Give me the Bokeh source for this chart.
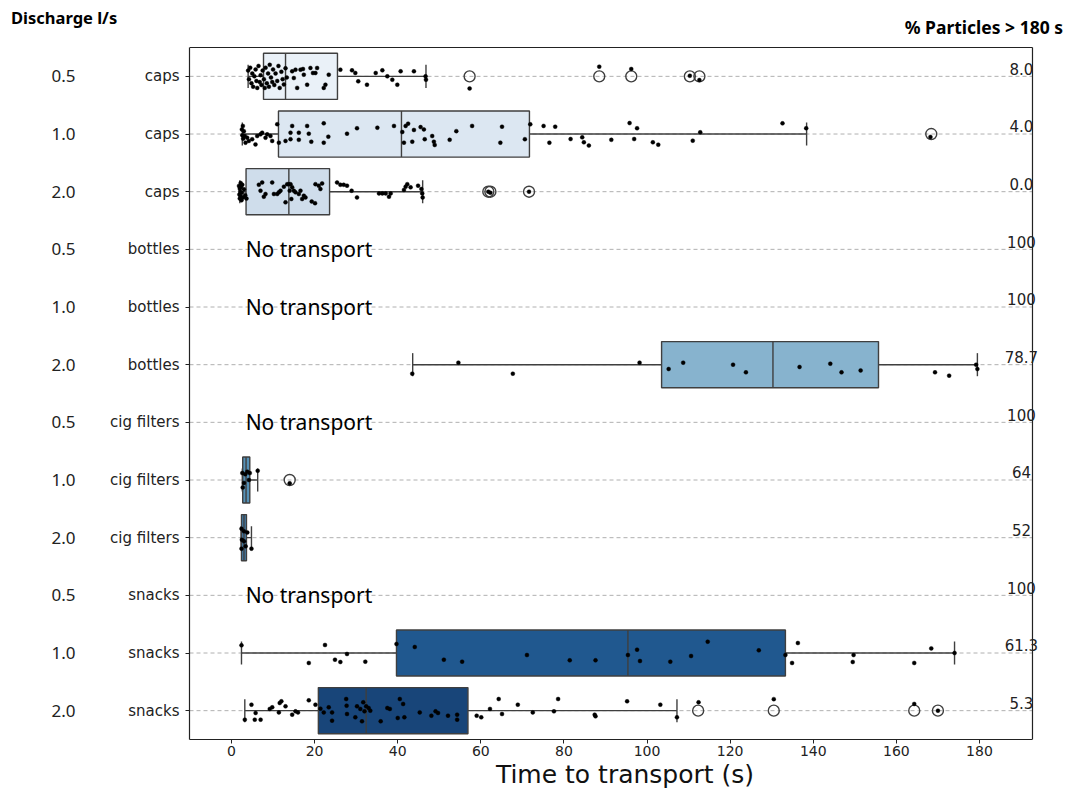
import colorsys
from bokeh.plotting import figure
from bokeh.layouts import column
from bokeh.models import Range1d, FixedTicker, LinearAxis, Label, ColumnDataSource, Div
from bokeh.embed import file_html
from bokeh.resources import INLINE

# ---------------- data ----------------
materials = ["caps", "caps", "caps", "bottles", "bottles", "bottles",
             "cig filters", "cig filters", "cig filters", "snacks", "snacks", "snacks"]
discharge = ["0.5", "1.0", "2.0", "0.5", "1.0", "2.0",
             "0.5", "1.0", "2.0", "0.5", "1.0", "2.0"]
pct_over_180 = ["8.0", "4.0", "0.0", "100", "100", "78.7", "100", "64", "52", "100", "61.3", "5.3"]
no_transport_rows = [3, 4, 6, 9]
x_ticks = [0, 20, 40, 60, 80, 100, 120, 140, 160, 180]

box_rows = [0, 1, 2, 5, 7, 8, 10, 11]
whisker_lo = [4.0, 2.6, 2.0, 43.6, 2.6, 2.3, 2.4, 3.2]
q1 = [7.7, 11.3, 3.5, 103.5, 2.7, 2.4, 39.7, 20.9]
median = [13.0, 40.9, 13.8, 130.3, 3.5, 3.0, 95.4, 32.4]
q3 = [25.5, 71.7, 23.6, 155.7, 4.4, 3.6, 133.3, 56.9]
whisker_hi = [46.8, 138.4, 46.0, 179.5, 6.3, 4.8, 174.0, 107.2]

outliers_caps_05 = [57.3, 88.5, 96.2, 110.3, 112.6]
outliers_caps_10 = [168.4]
outliers_caps_20 = [61.8, 62.3, 71.6]
outliers_cig_10 = [14.0]
outliers_snacks_20 = [112.3, 130.5, 164.3, 170.0]

# individual particles: time (s) and vertical jitter (row units)
pts_caps_05_x = [4.0, 4.2, 4.5, 4.8, 5.0, 5.2, 5.5, 5.8, 6.0, 6.2, 6.5, 6.8, 7.0, 7.2, 7.5, 7.8,
                 8.0, 8.2, 8.5, 8.8, 9.0, 9.2, 9.5, 9.8, 10.0, 10.3, 10.6, 11.0, 11.3, 11.6, 12.0,
                 12.3, 12.6, 13.0, 13.3,
                 14.6, 15.4, 15.0, 15.8, 16.6, 17.2, 17.4, 18.2, 19.0, 19.6, 20.2, 20.6, 22.2, 22.6,
                 23.4, 26.2, 29.0, 29.8, 30.5, 32.6, 34.7, 36.3, 37.5, 38.7, 39.9, 40.7, 43.9, 46.7,
                 46.8, 57.3, 88.5, 96.2, 110.3, 112.6]
pts_caps_05_j = [-0.10, 0.05, -0.15, 0.12, -0.05, 0.18, 0.00, -0.12, 0.08, 0.20, -0.18, 0.10, -0.02,
                 0.15, -0.10, 0.05, 0.20, -0.15, 0.12, -0.05, 0.18, -0.20, 0.02, 0.10, -0.12, 0.15,
                 -0.05, 0.08, -0.18, 0.20, -0.08, 0.05, 0.14, -0.14, 0.02,
                 -0.087, -0.116, 0.029, 0.20, -0.116, -0.127, -0.029, 0.145, -0.145, -0.058, -0.058,
                 -0.145, 0.20, 0.145, -0.029, -0.116, -0.104, -0.058, 0.087, 0.145, -0.058, -0.104,
                 0.0, 0.058, 0.145, -0.087, -0.087, 0.0, 0.058, 0.21, -0.168, -0.127, -0.01, 0.064]

pts_caps_10_x = [2.5, 2.6, 2.8, 2.73, 2.97, 3.2, 3.37, 3.77, 4.17, 4.97, 5.77, 6.18, 6.98, 7.38,
                 8.18, 8.58, 9.38, 9.79, 11.0, 11.4, 13.0, 14.2, 14.6, 14.2, 16.2, 16.2, 18.2, 18.6,
                 19.2, 22.2, 22.2, 23.3, 27.8, 30.2, 35.1, 39.1, 41.1, 41.5, 41.9, 42.5, 43.5, 43.9,
                 45.5, 46.3, 46.5, 48.3, 48.7, 48.9, 52.5, 54.1, 57.9, 64.7, 65.1, 70.6, 71.9, 75.1,
                 76.5, 77.9, 81.6, 84.4, 84.8, 86.0, 91.4, 95.8, 96.9, 97.6, 101.4, 102.7, 111.0,
                 112.8, 132.6, 138.3, 168.2]
pts_caps_10_j = [-0.08, 0.02, 0.08, -0.14, -0.05, 0.035, 0.15, 0.064, 0.12, 0.09, 0.18, 0.035, 0.006,
                 -0.023, 0.064, 0.006, 0.035, 0.12, -0.17, 0.15, 0.12, -0.023, -0.14, 0.09, -0.023,
                 0.10, -0.14, -0.006, 0.133, -0.185, 0.15, 0.046, -0.006, -0.10, -0.11, -0.14, -0.035,
                 0.15, -0.14, -0.18, 0.133, -0.07, -0.12, -0.08, 0.09, 0.035, 0.133, 0.19, 0.10, -0.05,
                 -0.14, 0.15, -0.127, 0.09, -0.168, -0.14, 0.15, -0.127, 0.087, 0.058, 0.144, 0.20,
                 0.10, -0.19, 0.087, -0.10, 0.144, 0.185, 0.115, -0.03, -0.185, -0.10, 0.05]

pts_caps_20_x = [1.8, 1.9, 2.0, 2.0, 2.1, 2.2, 2.2, 2.3, 2.4, 2.5, 2.6, 2.8, 3.0, 3.3, 3.6,
                 6.58, 7.38, 6.98, 7.78, 8.18, 9.79, 10.2, 11.0, 11.4, 11.8, 12.6, 13.0, 13.4, 13.8,
                 14.0, 14.2, 14.4, 14.6, 15.0, 15.4, 16.2, 16.6, 17.0, 17.4, 17.8, 19.3, 20.1, 20.2,
                 21.0, 21.4, 21.8, 25.4, 26.2, 27.0, 27.8, 28.9, 30.2, 35.5, 36.3, 37.1, 37.9, 38.3,
                 41.5, 41.9, 42.3, 43.1, 44.9, 45.7, 45.9, 46.0, 61.8, 62.3, 71.6]
pts_caps_20_j = [-0.10, 0.05, -0.05, 0.12, 0.0, -0.15, 0.08, -0.08, 0.15, 0.02, -0.12, 0.10, -0.04,
                 0.06, 0.12, -0.12, -0.16, -0.017, 0.087, 0.04, -0.16, 0.04, 0.04, 0.012, -0.017,
                 -0.087, 0.185, -0.13, -0.13, -0.017, -0.13, 0.127, -0.075, -0.017, 0.012, 0.04,
                 -0.017, 0.127, 0.07, 0.10, 0.17, 0.20, -0.13, -0.104, -0.046, -0.144, -0.16, -0.12,
                 -0.12, -0.104, -0.017, 0.10, 0.03, 0.03, 0.03, 0.087, 0.03, -0.03, -0.087, -0.13,
                 -0.075, -0.104, -0.046, 0.03, 0.10, 0.0, 0.02, 0.0]

pts_bottles_20_x = [43.5, 54.6, 67.7, 98.2, 105.2, 108.7, 120.7, 123.8, 136.7, 144.1, 146.8, 151.4,
                    169.3, 172.7, 179.2, 179.5]
pts_bottles_20_j = [0.156, -0.035, 0.156, -0.035, 0.075, -0.035, 0.0, 0.133, 0.04, -0.017, 0.133,
                    0.10, 0.133, 0.19, 0.0, 0.075]

pts_cig_10_x = [2.6, 2.7, 3.0, 3.3, 3.8, 4.2, 4.4, 6.3, 14.0]
pts_cig_10_j = [-0.12, 0.13, 0.05, -0.10, -0.145, 0.0, -0.12, -0.16, 0.058]

pts_cig_20_x = [2.4, 2.5, 2.4, 3.0, 3.4, 3.8, 4.8, 3.0]
pts_cig_20_j = [-0.156, 0.035, 0.19, -0.11, 0.15, -0.09, 0.19, 0.064]

pts_snacks_10_x = [2.4, 22.5, 18.6, 24.9, 26.2, 27.8, 32.2, 39.7, 44.1, 51.1, 55.5, 71.1, 81.4, 87.6,
                   95.4, 97.6, 98.3, 105.6, 110.6, 114.6, 126.9, 133.3, 134.9, 136.3, 149.7, 149.5,
                   164.3, 168.4, 174.0]
pts_snacks_10_j = [-0.133, -0.139, 0.173, 0.116, 0.156, 0.017, 0.15, -0.156, -0.104, 0.116, 0.15,
                   0.035, 0.127, 0.127, 0.035, -0.058, 0.139, 0.15, 0.052, -0.197, -0.046, 0.035,
                   0.173, -0.173, 0.035, 0.156, 0.173, -0.08, 0.0]

pts_snacks_20_x = [3.2, 4.8, 5.8, 5.6, 7.0, 9.2, 9.8, 11.4, 11.6, 12.0, 13.0, 14.6, 15.4, 16.0, 18.6,
                   20.2, 21.4, 22.2, 23.4, 24.2, 24.2, 27.6, 27.7, 27.8, 29.8, 30.2, 31.0, 31.4, 31.7,
                   32.0, 32.4, 33.0, 33.4, 35.9, 37.5, 38.1, 40.0, 40.5, 41.3, 41.6, 45.3, 48.1, 49.1,
                   49.7, 52.1, 54.3, 54.3, 59.0, 60.1, 62.2, 64.3, 65.1, 68.9, 72.5, 77.6, 78.6, 87.4,
                   87.6, 95.2, 103.2, 107.2, 112.4, 130.5, 164.3, 170.0]
pts_snacks_20_j = [0.156, -0.104, 0.04, 0.156, 0.156, -0.03, -0.058, 0.03, -0.133, -0.162, -0.075,
                   0.069, 0.012, 0.03, -0.179, -0.104, -0.035, 0.03, -0.058, 0.03, 0.173, -0.202,
                   -0.087, 0.058, 0.116, -0.075, -0.03, 0.185, -0.145, 0.012, -0.075, -0.046, 0.0,
                   0.185, -0.046, -0.03, 0.127, -0.202, -0.116, 0.116, 0.03, 0.087, 0.012, 0.04,
                   0.087, 0.069, 0.156, 0.087, 0.116, -0.03, -0.202, 0.058, -0.104, 0.03, 0.012,
                   -0.202, 0.069, 0.098, -0.162, -0.104, 0.116, -0.145, -0.2, -0.116, 0.0]

points_by_row = {0: (pts_caps_05_x, pts_caps_05_j), 1: (pts_caps_10_x, pts_caps_10_j),
                 2: (pts_caps_20_x, pts_caps_20_j), 5: (pts_bottles_20_x, pts_bottles_20_j),
                 7: (pts_cig_10_x, pts_cig_10_j), 8: (pts_cig_20_x, pts_cig_20_j),
                 10: (pts_snacks_10_x, pts_snacks_10_j), 11: (pts_snacks_20_x, pts_snacks_20_j)}
outliers_by_row = {0: outliers_caps_05, 1: outliers_caps_10, 2: outliers_caps_20,
                   7: outliers_cig_10, 11: outliers_snacks_20}

# ---------------- colours (Blues palette, desaturated) ----------------
BLUES = [(247, 251, 255), (222, 235, 247), (198, 219, 239), (158, 202, 225), (107, 174, 214),
         (66, 146, 198), (33, 113, 181), (8, 81, 156), (8, 48, 107)]


def blues(t):
    s = t * 8
    i = min(int(s), 7)
    f = s - i
    return tuple((BLUES[i][k] + (BLUES[i + 1][k] - BLUES[i][k]) * f) / 255 for k in range(3))


def desat(rgb, prop=0.75):
    h, l, s = colorsys.rgb_to_hls(*rgb)
    r, g, b = colorsys.hls_to_rgb(h, l, s * prop)
    return "#%02x%02x%02x" % (round(r * 255), round(g * 255), round(b * 255))


row_colors = [desat(blues((i + 1) / 13)) for i in range(12)]
EDGE = "#3f3f3f"
FRAME = "#222222"
HALF = 0.4
X_LO, X_HI = -10.11, 192.76      # visible box of the axes
Y_TOP, Y_BOT = -0.5, 11.5

# ---------------- header (outside the plot frame) ----------------
header = Div(
    text=('<div style="position:relative;width:1060px;height:40px;font-family:\'Noto Sans\';'
          'font-weight:bold;color:#000;">'
          '<span style="position:absolute;left:11px;top:6px;font-size:16.5px;">Discharge l/s</span>'
          '<span style="position:absolute;right:-3px;top:15px;font-size:17.5px;">% Particles &gt; 180 s</span>'
          '</div>'),
    width=1060, height=40, margin=(0, 0, 0, 0))

# ---------------- figure ----------------
p = figure(width=1060, height=753,
           x_range=Range1d(X_LO, 199.5), y_range=Range1d(Y_BOT, -0.535),
           output_backend="svg", toolbar_location=None,
           min_border_left=189, min_border_right=0, min_border_top=5, min_border_bottom=54,
           margin=(0, 0, 0, 0))
p.background_fill_color = "white"
p.border_fill_color = "white"
p.outline_line_color = None

rows = list(range(12))
yax = p.yaxis[0]
yax.ticker = FixedTicker(ticks=rows)
yax.bounds = (Y_TOP, Y_BOT)
yax.major_label_overrides = {i: materials[i] for i in rows}
yax.major_label_text_font = "DejaVu Sans"
yax.major_label_text_font_size = "15px"
yax.major_label_text_color = "#222222"
yax.major_tick_out = 4
yax.major_tick_in = 0
yax.minor_tick_line_color = None
yax.major_label_standoff = 6
yax.axis_line_color = FRAME
yax.axis_line_width = 1.2
yax.major_tick_line_color = FRAME

xax = p.xaxis[0]
xax.ticker = FixedTicker(ticks=x_ticks)
xax.bounds = (X_LO, X_HI)
xax.major_label_text_font = "DejaVu Sans"
xax.major_label_text_font_size = "14px"
xax.major_label_text_color = "#222222"
xax.major_tick_out = 4
xax.major_tick_in = 0
xax.major_label_standoff = 2
xax.minor_tick_line_color = None
xax.axis_line_color = FRAME
xax.axis_line_width = 1.2
xax.major_tick_line_color = FRAME
xax.axis_label = "Time to transport (s)"
xax.axis_label_text_font = "DejaVu Sans"
xax.axis_label_text_font_size = "25px"
xax.axis_label_text_font_style = "normal"
xax.axis_label_text_color = "#111111"
xax.axis_label_standoff = 1

ax2 = LinearAxis(ticker=FixedTicker(ticks=rows),
                 major_label_overrides={i: discharge[i] for i in rows},
                 major_tick_line_color=None, minor_tick_line_color=None, axis_line_color=None,
                 major_label_standoff=26, major_label_text_font="Noto Sans",
                 major_label_text_font_size="17px", major_label_text_color="#222222")
p.add_layout(ax2, "left")

p.xgrid.grid_line_color = None
p.ygrid.grid_line_color = None

# dashed row guides, limited to the axes box
p.segment(x0=[X_LO] * 12, y0=rows, x1=[X_HI] * 12, y1=rows,
          line_color="#b0b0b0", line_dash="4 3", line_width=1)

# top and right edges of the axes box
p.segment(x0=[X_LO, X_HI], y0=[Y_TOP, Y_TOP], x1=[X_HI, X_HI], y1=[Y_TOP, Y_BOT],
          line_color=FRAME, line_width=1.2)

# boxes
box_src = ColumnDataSource(dict(
    row=box_rows, q1=q1, q3=q3, med=median, wlo=whisker_lo, whi=whisker_hi,
    bottom=[r + HALF for r in box_rows], top=[r - HALF for r in box_rows],
    cap0=[r - 0.2 for r in box_rows], cap1=[r + 0.2 for r in box_rows],
    color=[row_colors[r] for r in box_rows]))

p.segment(x0="wlo", y0="row", x1="q1", y1="row", source=box_src, line_color=EDGE, line_width=1.4)
p.segment(x0="q3", y0="row", x1="whi", y1="row", source=box_src, line_color=EDGE, line_width=1.4)
p.segment(x0="wlo", y0="cap0", x1="wlo", y1="cap1", source=box_src, line_color=EDGE, line_width=1.4)
p.segment(x0="whi", y0="cap0", x1="whi", y1="cap1", source=box_src, line_color=EDGE, line_width=1.4)
p.quad(left="q1", right="q3", bottom="bottom", top="top", source=box_src,
       fill_color="color", line_color=EDGE, line_width=1.4)
p.segment(x0="med", y0="bottom", x1="med", y1="top", source=box_src, line_color=EDGE, line_width=1.4)

# outliers
ox, oy = [], []
for r, vals in outliers_by_row.items():
    ox += vals
    oy += [r] * len(vals)
p.scatter(ox, oy, marker="circle", size=11, fill_color=None, line_color=EDGE, line_width=1.4)

# strip points
sx, sy = [], []
for r, (xs, js) in points_by_row.items():
    sx += xs
    sy += [r + j for j in js]
p.scatter(sx, sy, marker="circle", size=4, fill_color="black", line_color="black", line_width=0.4)

# texts
for r in no_transport_rows:
    p.add_layout(Label(x=3.4, y=r, text="No transport", text_baseline="middle", text_align="left",
                       text_font="Noto Sans", text_font_size="21px", text_color="black"))
for r in rows:
    p.add_layout(Label(x=190.1, y=r - 0.03, text=pct_over_180[r], text_baseline="bottom",
                       text_align="center", text_font="DejaVu Sans", text_font_size="15px",
                       text_color="#222222"))

open("out.html", "w").write(file_html(column(header, p, spacing=0), INLINE))
